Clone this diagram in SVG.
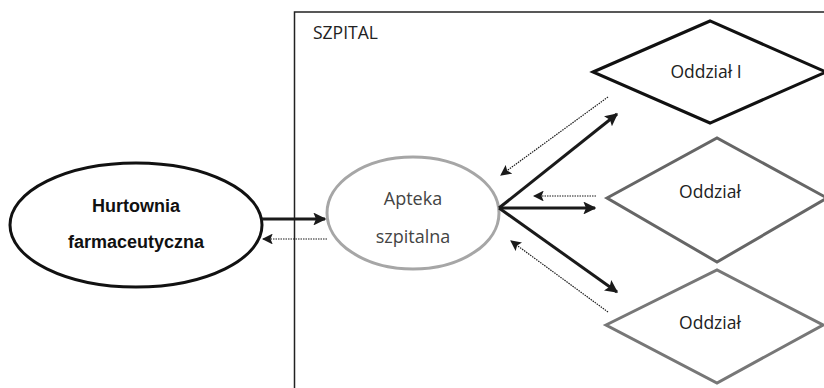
<svg xmlns="http://www.w3.org/2000/svg" width="824" height="388" viewBox="0 0 824 388">
<defs>
<marker id="ah" viewBox="0 0 10 10" refX="9" refY="5" markerWidth="4.3" markerHeight="4.3" orient="auto" markerUnits="strokeWidth"><path d="M0,0 L10,5 L0,10 L2,5 z" fill="#1a1a1a"/></marker>
<marker id="ad" viewBox="0 0 10 10" refX="9" refY="5" markerWidth="9" markerHeight="9" orient="auto" markerUnits="strokeWidth"><path d="M0,0 L10,5 L0,10 L2,5 z" fill="#1a1a1a"/></marker>
<style>
.t{font-family:"Open Sans","Liberation Sans",sans-serif;font-size:17.5px;fill:#222;text-anchor:middle}
.b{font-family:"Liberation Sans",Arial,sans-serif;font-size:18px;font-weight:bold;fill:#111;text-anchor:middle}
.g{fill:#444}
.solid{stroke:#1a1a1a;stroke-width:3;fill:none;marker-end:url(#ah)}
.dot{stroke:#1a1a1a;stroke-width:1.2;stroke-dasharray:1.5 1;fill:none;marker-end:url(#ad)}
</style>
</defs>
<rect width="824" height="388" fill="#fff"/>
<g id="szpital">
<rect x="294.5" y="12" width="540" height="390" fill="none" stroke="#222" stroke-width="1.5"/>
<text x="313" y="39" class="t" style="text-anchor:start;font-size:17.5px">SZPITAL</text>
</g>
<g id="hurtownia">
<ellipse cx="136" cy="225" rx="126" ry="62" fill="#fff" stroke="#111" stroke-width="3"/>
<text x="136" y="212" class="b">Hurtownia</text>
<text x="136" y="248" class="b">farmaceutyczna</text>
</g>
<g id="apteka">
<ellipse cx="413" cy="213" rx="86" ry="56" fill="#fff" stroke="#a6a6a6" stroke-width="3"/>
<text x="413" y="205" class="t g" style="font-size:18px">Apteka</text>
<text x="413" y="243" class="t g" style="font-size:18px">szpitalna</text>
</g>
<g id="oddzial1">
<polygon points="593,72 710,21 826,72 710,123" fill="#fff" stroke="#111" stroke-width="3"/>
<text x="706" y="78" class="t">Oddział I</text>
</g>
<g id="oddzial2">
<polygon points="607,198 717,138 827,198 717,262" fill="#fff" stroke="#666" stroke-width="3"/>
<text x="710" y="198" class="t">Oddział</text>
</g>
<g id="oddzial3">
<polygon points="606,325 717,270 823,325 717,383" fill="#fff" stroke="#777" stroke-width="3"/>
<text x="710" y="329" class="t">Oddział</text>
</g>
<g id="connectors">
<line x1="262" y1="219" x2="325" y2="219" class="solid"/>
<line x1="327" y1="239" x2="263" y2="239" class="dot"/>
<line x1="499" y1="208" x2="617" y2="114" class="solid"/>
<line x1="499" y1="208" x2="595" y2="208" class="solid"/>
<line x1="499" y1="208" x2="617" y2="292" class="solid"/>
<line x1="608" y1="97" x2="501" y2="175" class="dot"/>
<line x1="596" y1="196" x2="534" y2="196" class="dot"/>
<line x1="608" y1="312" x2="511" y2="241" class="dot"/>
</g>
</svg>
